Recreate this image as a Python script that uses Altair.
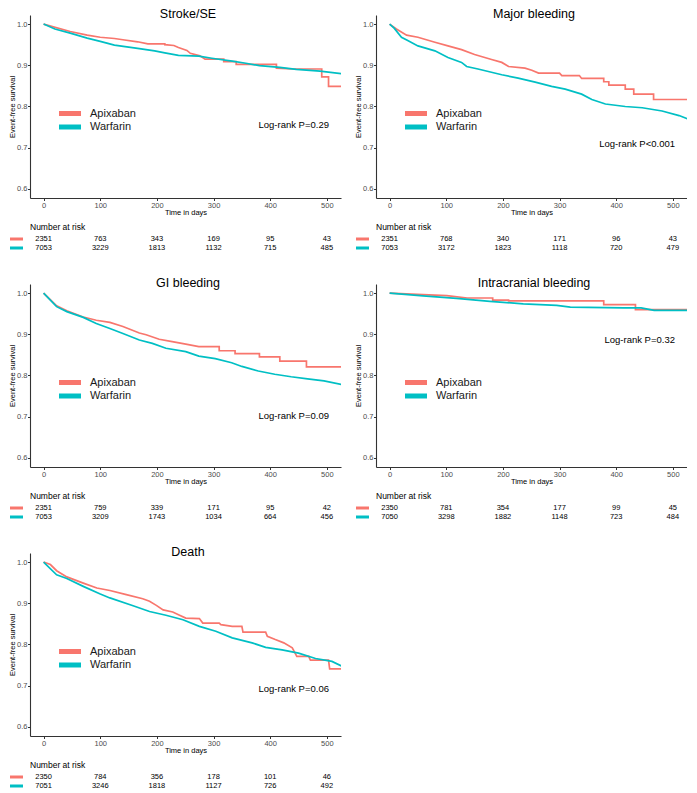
import altair as alt
import pandas as pd

FONT = "Liberation Sans, Arial, sans-serif"

GROUPS = ["Apixaban", "Warfarin"]
COLORS = ["#F8766D", "#00BFC4"]

TITLES = ["Stroke/SE", "Major bleeding", "GI bleeding", "Intracranial bleeding", "Death"]
PVALS = ["Log-rank P=0.29", "Log-rank P<0.001", "Log-rank P=0.09", "Log-rank P=0.32", "Log-rank P=0.06"]

# ---- Kaplan-Meier curves (days, survival); repeated days mark visible drops ----
stroke_apix_t = [0, 47, 77, 100, 125, 140, 166, 184, 214, 214, 230, 238, 253, 259, 276, 285, 318, 318, 340, 340, 411, 411, 440, 491, 491, 503, 503, 530]
stroke_apix_s = [1.0, 0.982, 0.973, 0.968, 0.965, 0.962, 0.957, 0.952, 0.952, 0.950, 0.948, 0.943, 0.936, 0.929, 0.923, 0.915, 0.915, 0.909, 0.909, 0.902, 0.902, 0.893, 0.891, 0.891, 0.872, 0.872, 0.849, 0.849]
stroke_warf_t = [0, 20, 47, 77, 100, 125, 166, 196, 214, 238, 274, 297, 333, 357, 381, 417, 446, 488, 530]
stroke_warf_s = [1.0, 0.988, 0.978, 0.966, 0.958, 0.949, 0.941, 0.935, 0.930, 0.924, 0.922, 0.917, 0.910, 0.905, 0.899, 0.895, 0.890, 0.886, 0.879]

major_apix_t = [0, 12, 30, 50, 80, 103, 127, 150, 180, 198, 210, 239, 251, 263, 300, 304, 335, 339, 378, 378, 387, 387, 416, 416, 431, 431, 466, 466, 530]
major_apix_s = [1.0, 0.988, 0.973, 0.968, 0.956, 0.947, 0.938, 0.926, 0.914, 0.907, 0.897, 0.893, 0.888, 0.881, 0.881, 0.875, 0.875, 0.868, 0.868, 0.860, 0.860, 0.852, 0.852, 0.842, 0.842, 0.830, 0.830, 0.817, 0.817]
major_warf_t = [0, 8, 21, 32, 50, 80, 103, 127, 136, 156, 198, 227, 257, 286, 310, 339, 357, 381, 416, 446, 481, 511, 530]
major_warf_s = [1.0, 0.990, 0.968, 0.960, 0.947, 0.935, 0.919, 0.907, 0.897, 0.891, 0.877, 0.869, 0.859, 0.849, 0.842, 0.830, 0.817, 0.806, 0.800, 0.797, 0.789, 0.778, 0.768]

gi_apix_t = [0, 23, 41, 70, 93, 117, 140, 169, 181, 204, 227, 251, 274, 310, 310, 338, 338, 381, 381, 417, 417, 464, 464, 530]
gi_apix_s = [1.0, 0.969, 0.957, 0.942, 0.934, 0.929, 0.919, 0.903, 0.899, 0.888, 0.882, 0.876, 0.870, 0.870, 0.860, 0.860, 0.853, 0.853, 0.845, 0.845, 0.835, 0.835, 0.821, 0.821]
gi_warf_t = [0, 23, 41, 70, 93, 117, 140, 169, 192, 216, 251, 274, 303, 332, 350, 379, 408, 437, 466, 495, 530]
gi_warf_s = [1.0, 0.967, 0.955, 0.941, 0.926, 0.914, 0.902, 0.886, 0.878, 0.866, 0.858, 0.847, 0.841, 0.831, 0.822, 0.811, 0.803, 0.797, 0.792, 0.787, 0.777]

ich_apix_t = [0, 59, 101, 137, 182, 182, 210, 210, 378, 378, 434, 434, 530]
ich_apix_s = [1.0, 0.996, 0.994, 0.988, 0.988, 0.983, 0.983, 0.981, 0.981, 0.972, 0.972, 0.960, 0.960]
ich_warf_t = [0, 59, 118, 177, 236, 295, 319, 413, 444, 467, 530]
ich_warf_s = [1.0, 0.993, 0.987, 0.980, 0.974, 0.970, 0.966, 0.964, 0.964, 0.958, 0.958]

death_apix_t = [0, 12, 23, 41, 70, 94, 117, 146, 175, 187, 199, 211, 228, 240, 251, 275, 281, 310, 313, 333, 350, 352, 392, 395, 409, 424, 439, 447, 468, 471, 503, 505, 530]
death_apix_s = [1.0, 0.994, 0.979, 0.964, 0.949, 0.937, 0.931, 0.921, 0.911, 0.905, 0.895, 0.884, 0.879, 0.871, 0.864, 0.863, 0.852, 0.852, 0.848, 0.844, 0.844, 0.830, 0.830, 0.820, 0.812, 0.804, 0.792, 0.771, 0.771, 0.762, 0.762, 0.741, 0.741]
death_warf_t = [0, 23, 41, 70, 99, 117, 158, 187, 216, 246, 275, 304, 333, 368, 392, 421, 450, 480, 509, 530]
death_warf_s = [1.0, 0.969, 0.960, 0.941, 0.923, 0.913, 0.894, 0.880, 0.871, 0.860, 0.844, 0.832, 0.816, 0.804, 0.793, 0.787, 0.779, 0.766, 0.759, 0.745]

# ---- Number at risk ----
RISK_TIMES = [0, 100, 200, 300, 400, 500]
stroke_risk_apix = [2351, 763, 343, 169, 95, 43]
stroke_risk_warf = [7053, 3229, 1813, 1132, 715, 485]
major_risk_apix = [2351, 768, 340, 171, 96, 43]
major_risk_warf = [7053, 3172, 1823, 1118, 720, 479]
gi_risk_apix = [2351, 759, 339, 171, 95, 42]
gi_risk_warf = [7053, 3209, 1743, 1034, 664, 456]
ich_risk_apix = [2350, 781, 354, 177, 99, 45]
ich_risk_warf = [7050, 3298, 1882, 1148, 723, 484]
death_risk_apix = [2350, 784, 356, 178, 101, 46]
death_risk_warf = [7051, 3246, 1818, 1127, 726, 492]

CURVES = [
    ((stroke_apix_t, stroke_apix_s), (stroke_warf_t, stroke_warf_s)),
    ((major_apix_t, major_apix_s), (major_warf_t, major_warf_s)),
    ((gi_apix_t, gi_apix_s), (gi_warf_t, gi_warf_s)),
    ((ich_apix_t, ich_apix_s), (ich_warf_t, ich_warf_s)),
    ((death_apix_t, death_apix_s), (death_warf_t, death_warf_s)),
]
RISKS = [
    (stroke_risk_apix, stroke_risk_warf),
    (major_risk_apix, major_risk_warf),
    (gi_risk_apix, gi_risk_warf),
    (ich_risk_apix, ich_risk_warf),
    (death_risk_apix, death_risk_warf),
]

X_TICKS = [0, 100, 200, 300, 400, 500]
Y_TICKS = [0.6, 0.7, 0.8, 0.9, 1.0]

W, H = 311, 183
LR_Y = [110, 129, 132, 56, 136]


def panel(i):
    rows = []
    for g, (ts, ss) in zip(GROUPS, CURVES[i]):
        for j, (t, s) in enumerate(zip(ts, ss)):
            rows.append({"t": t, "s": s, "group": g, "i": j})
    df = pd.DataFrame(rows)

    xs = alt.Scale(domain=[-24, 525], nice=False, zero=False)
    ys = alt.Scale(domain=[0.578, 1.022], nice=False, zero=False)

    lines = alt.Chart(df).mark_line(strokeWidth=1.7, clip=True).encode(
        x=alt.X("t:Q", scale=xs, axis=alt.Axis(values=X_TICKS, title="Time in days")),
        y=alt.Y("s:Q", scale=ys, axis=alt.Axis(values=Y_TICKS, format=".1f", title="Event-free survival")),
        color=alt.Color("group:N", scale=alt.Scale(domain=GROUPS, range=COLORS), legend=None),
        order="i:Q",
    )
    layers = [lines]

    one = pd.DataFrame({"k": [0]})
    # title
    layers.append(alt.Chart(one).mark_text(font=FONT, fontSize=12.5, baseline="middle", align="center", color="black").encode(
        x=alt.value(158), y=alt.value(-1), text=alt.value(TITLES[i])))
    # log-rank
    layers.append(alt.Chart(one).mark_text(font=FONT, fontSize=9.5, baseline="middle", align="right", color="black").encode(
        x=alt.value(299), y=alt.value(LR_Y[i]), text=alt.value(PVALS[i])))
    # legend
    for k, g in enumerate(GROUPS):
        gy = 98.5 + 13.5 * k
        gdf = pd.DataFrame({"group": [g]})
        layers.append(alt.Chart(gdf).mark_rule(strokeWidth=5).encode(
            x=alt.value(29), x2=alt.value(51), y=alt.value(gy), color=alt.value(COLORS[k])))
        layers.append(alt.Chart(gdf).mark_text(font=FONT, fontSize=11, align="left", baseline="middle", color="#1a1a1a").encode(
            x=alt.value(60), y=alt.value(gy), text="group:N"))
    # number at risk table
    layers.append(alt.Chart(one).mark_text(font=FONT, fontSize=8.5, align="left", baseline="middle", color="black").encode(
        x=alt.value(0), y=alt.value(H + 29), text=alt.value("Number at risk")))
    for k, g in enumerate(GROUPS):
        ry = H + 41 + 9 * k
        rdf = pd.DataFrame({"t": RISK_TIMES, "n": RISKS[i][k]})
        layers.append(alt.Chart(rdf).mark_text(font=FONT, fontSize=7.5, align="center", baseline="middle", color="black").encode(
            x=alt.X("t:Q", scale=xs), y=alt.value(ry), text="n:Q"))
        layers.append(alt.Chart(pd.DataFrame({"group": [g]})).mark_rule(strokeWidth=3).encode(
            x=alt.value(-20), x2=alt.value(-7), y=alt.value(ry), color=alt.value(COLORS[k])))

    return alt.layer(*layers).properties(width=W, height=H)


chart = alt.concat(*[panel(i) for i in range(5)], columns=2, spacing=alt.RowColnumber(row=86, column=35), bounds="flush").properties(
    padding=0
).configure_view(stroke=None).configure_axis(
    grid=False,
    domainColor="#333333",
    domainWidth=1.1,
    tickColor="#333333",
    tickSize=2.5,
    labelFont=FONT,
    labelFontSize=7.5,
    labelColor="#4d4d4d",
    labelPadding=0.5,
    titleFont=FONT,
    titleFontSize=7.5,
    titleFontWeight="normal",
    titleColor="black",
    titlePadding=0,
)

chart.save("out.html", embed_options={"renderer": "svg", "actions": False})
